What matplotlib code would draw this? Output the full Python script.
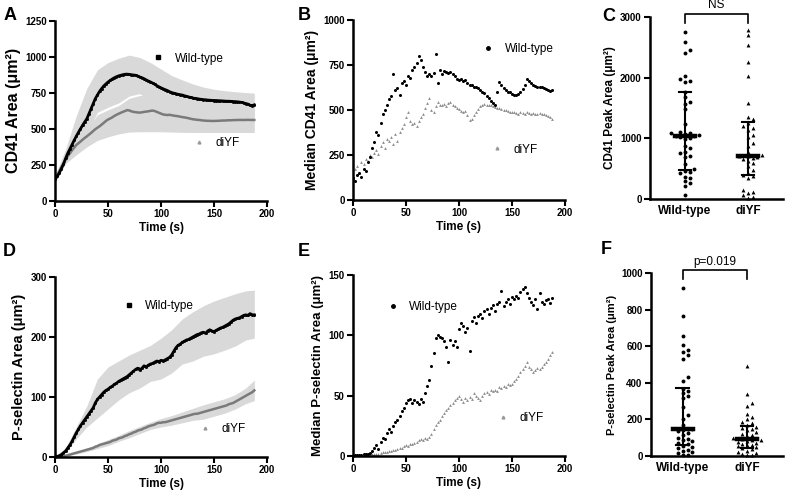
import numpy as np
import matplotlib
matplotlib.use("Agg")
import matplotlib.pyplot as plt
from matplotlib.lines import Line2D

plt.rcParams['font.family'] = ['Liberation Sans', 'DejaVu Sans']
plt.rcParams['font.weight'] = 'bold'
plt.rcParams['axes.labelweight'] = 'bold'

# traces are read every 2 s, error bands every 10 s
time_s = np.arange(0, 189, 2)
band_time_s = [0, 10, 20, 30, 40, 50, 60, 70, 80, 90, 100, 110, 120, 130, 140, 150, 160, 170, 180, 188]

# A: CD41 area, mean trace
cd41_wt = [150, 170, 195, 225, 255, 295, 330, 360, 390, 420, 448, 475, 500, 525, 548, 570, 605, 640, 675, 710,
           735, 760, 780, 798, 812, 825, 836, 846, 855, 862, 868, 872, 876, 879, 880, 878, 876, 874, 872, 866,
           860, 855, 848, 840, 832, 826, 818, 810, 800, 792, 785, 778, 772, 766, 758, 752, 748, 744, 740, 737,
           735, 730, 726, 722, 718, 714, 712, 710, 707, 705, 703, 702, 700, 699, 698, 697, 697, 696, 695, 694,
           693, 692, 692, 691, 690, 689, 688, 686, 684, 680, 676, 672, 664, 662, 667]
cd41_diyf = [150, 175, 205, 235, 262, 290, 310, 330, 350, 370, 388, 400, 412, 425, 437, 448, 460, 472, 485, 498,
             508, 518, 530, 542, 555, 565, 572, 580, 590, 598, 605, 612, 618, 624, 630, 628, 622, 618, 616, 614,
             613, 615, 618, 620, 622, 625, 627, 624, 618, 612, 606, 600, 598, 596, 598, 595, 592, 590, 588, 585,
             582, 580, 577, 574, 570, 567, 565, 563, 562, 560, 558, 557, 556, 556, 555, 555, 556, 556, 557, 558,
             558, 559, 560, 560, 561, 561, 562, 562, 562, 562, 562, 563, 562, 562, 562]
cd41_wt_hi = [175, 360, 590, 780, 910, 960, 990, 1012, 995, 960, 915, 870, 840, 812, 790, 775, 765, 758, 752, 748]
cd41_wt_lo = [130, 260, 340, 470, 615, 650, 680, 728, 745, 692, 655, 634, 630, 616, 616, 619, 621, 620, 600, 586]
cd41_diyf_hi = [175, 330, 440, 500, 598, 632, 662, 712, 732, 730, 720, 700, 690, 680, 670, 665, 660, 660, 660, 655]
cd41_diyf_lo = [130, 260, 320, 375, 420, 445, 465, 478, 480, 480, 480, 478, 476, 475, 475, 475, 475, 475, 475, 475]

# B: median CD41 area
med_cd41_wt = [120, 105, 140, 150, 125, 170, 160, 210, 240, 290, 320, 380, 360, 430, 480, 500, 530, 560, 575, 700,
               610, 620, 585, 650, 660, 640, 690, 680, 720, 740, 760, 800, 780, 740, 710, 690, 700, 690, 705, 810,
               650, 720, 700, 715, 710, 705, 712, 700, 690, 670, 665, 670, 660, 665, 650, 640, 638, 630, 625, 620,
               610, 600, 592, 580, 565, 550, 540, 530, 600, 656, 640, 620, 610, 600, 598, 590, 585, 583, 588, 600,
               615, 640, 670, 660, 650, 640, 635, 630, 628, 625, 620, 615, 612, 608, 610]
med_cd41_diyf = [130, 170, 190, 150, 210, 200, 230, 215, 250, 240, 260, 280, 255, 300, 320, 290, 340, 330, 350, 310,
                 365, 330, 380, 400, 420, 460, 490, 440, 420, 430, 410, 440, 460, 480, 510, 540, 565, 500, 490, 520,
                 545, 530, 525, 535, 520, 540, 545, 530, 520, 510, 505, 495, 490, 492, 470, 445, 450, 470, 490, 505,
                 520, 530, 535, 530, 528, 525, 520, 518, 512, 510, 505, 500, 498, 495, 490, 488, 490, 486, 480, 490,
                 485, 480, 488, 485, 480, 482, 480, 478, 485, 480, 475, 470, 465, 460, 450]

# C: CD41 peak area per platelet
peak_cd41_wt = [2750, 2580, 2460, 2410, 2020, 1980, 1950, 1930, 1770, 1680, 1590, 1570, 1480, 1240, 1100, 1090,
                1080, 1070, 1050, 1040, 1030, 1020, 1000, 990, 880, 840, 780, 760, 710, 690, 580, 490, 460, 440,
                420, 370, 350, 290, 270, 210, 70]
peak_cd41_diyf = [2780, 2700, 2530, 2250, 2020, 1580, 1350, 1310, 1250, 1200, 1170, 1140, 1060, 1020, 920, 870,
                  780, 730, 700, 700, 690, 680, 660, 620, 590, 540, 470, 430, 400, 380, 350, 150, 120, 100, 70,
                  40, 20]
peak_cd41_median = [1030, 700]
peak_cd41_low = [480, 400]
peak_cd41_high = [1770, 1260]

# D: P-selectin area, mean trace
psel_wt = [0, 1, 2, 4, 7, 10, 15, 20, 26, 33, 40, 46, 52, 57, 62, 67, 72, 77, 82, 90,
           96, 100, 104, 108, 111, 113, 116, 118, 121, 123, 126, 128, 130, 132, 134, 137, 140, 143, 146, 148,
           145, 148, 152, 150, 153, 155, 156, 158, 160, 159, 161, 160, 162, 164, 166, 170, 176, 182, 186, 188,
           191, 193, 195, 196, 198, 200, 202, 204, 205, 207, 208, 206, 210, 212, 210, 209, 211, 213, 215, 216,
           218, 220, 222, 225, 228, 230, 231, 232, 234, 236, 237, 236, 239, 237, 237]
psel_diyf = [0, 0, 0.5, 1, 1.5, 2, 3, 4, 5, 6, 7, 8, 9, 10, 11, 12, 13, 14, 15, 17,
             18, 20, 21, 22, 23, 24, 25, 27, 28, 29, 31, 32, 33, 35, 36, 38, 39, 41, 42, 44,
             45, 46, 48, 49, 51, 52, 53, 54, 56, 57, 57, 58, 58, 59, 60, 61, 62, 63, 64, 65,
             66, 67, 68, 69, 70, 71, 72, 72, 73, 74, 75, 76, 77, 78, 79, 80, 81, 82, 83, 84,
             85, 86, 88, 89, 90, 92, 94, 96, 98, 100, 102, 104, 106, 108, 111]
psel_wt_hi = [2, 15, 50, 85, 130, 150, 160, 170, 178, 186, 198, 212, 230, 242, 252, 260, 266, 272, 277, 278]
psel_wt_lo = [0, 7, 30, 50, 65, 80, 95, 107, 115, 126, 130, 140, 155, 160, 168, 172, 178, 185, 195, 198]
psel_diyf_hi = [0, 3, 9, 15, 22, 29, 36, 44, 51, 58, 64, 69, 75, 81, 87, 92, 97, 104, 115, 128]
psel_diyf_lo = [0, 1, 5, 9, 14, 19, 26, 32, 39, 46, 50, 53, 57, 61, 63, 68, 73, 80, 89, 94]

# E: median P-selectin area
med_psel_wt = [0, 0.5, 0.5, 1, 1, 1.5, 2, 2, 2.5, 4, 7, 9, 6, 12, 15, 14, 19, 22, 20, 25,
               28, 30, 33, 37, 40, 44, 46, 47, 44, 46, 45, 43, 47, 45, 52, 58, 63, 75, 85, 98,
               100, 99, 98, 95, 90, 78, 96, 92, 95, 90, 105, 110, 108, 103, 106, 87, 112, 115, 110, 116,
               118, 114, 120, 122, 118, 123, 125, 120, 126, 128, 137, 124, 128, 130, 126, 132, 130, 133, 131, 136,
               138, 140, 135, 131, 128, 125, 130, 122, 135, 128, 126, 129, 130, 127, 131]
med_psel_diyf = [0, 0, 0, 0.5, 0.5, 0.5, 1, 1, 1, 1.5, 1.5, 2, 2, 2.5, 3, 3, 3.5, 4, 4.5, 5,
                 5, 6, 7, 7, 8, 9, 8, 10, 10, 11, 12, 13, 14, 13, 15, 14, 16, 18, 22, 26,
                 28, 30, 33, 36, 38, 40, 42, 44, 46, 48, 50, 47, 45, 48, 46, 49, 47, 52, 50, 48,
                 46, 50, 52, 53, 51, 55, 54, 55, 54, 57, 56, 58, 57, 60, 59, 60, 62, 64, 66, 70,
                 72, 75, 78, 74, 72, 70, 71, 73, 72, 74, 76, 78, 80, 84, 86]

# F: P-selectin peak area per platelet
peak_psel_wt = [920, 765, 658, 604, 580, 570, 553, 530, 432, 410, 367, 355, 343, 330, 315, 270, 222, 200, 170,
                150, 145, 140, 135, 125, 115, 100, 95, 88, 80, 70, 65, 57, 50, 42, 35, 28, 20, 14, 8, 4]
peak_psel_diyf = [492, 337, 291, 275, 230, 215, 200, 188, 180, 170, 160, 152, 145, 140, 130, 122, 115, 108, 100,
                  96, 93, 90, 87, 82, 78, 72, 68, 62, 58, 52, 47, 42, 36, 30, 24, 18, 12, 8, 4]
peak_psel_median = [145, 95]
peak_psel_low = [60, 45]
peak_psel_high = [370, 165]

groups = ['Wild-type', 'diYF']

WT_COLOR = 'black'
DIYF_COLOR = '#7a7a7a'
BAND_COLOR = '#d9d9d9'

fig = plt.figure(figsize=(7.87, 4.95), dpi=100)


def style_axes(ax):
    for side in ['top', 'right']:
        ax.spines[side].set_visible(False)
    for side in ['left', 'bottom']:
        ax.spines[side].set_linewidth(1.8)
    ax.tick_params(direction='out', length=4, width=1.5, labelsize=7, pad=2)
    for lab in ax.get_xticklabels() + ax.get_yticklabels():
        lab.set_fontweight('bold')


def add_legend(ax, wt_pos, diyf_pos, wt_marker, diyf_marker):
    h_wt = Line2D([], [], ls='none', marker=wt_marker, color=WT_COLOR, ms=2.5)
    h_diyf = Line2D([], [], ls='none', marker=diyf_marker, color='#999999', ms=2)
    leg1 = ax.legend([h_wt], ['Wild-type'], loc='center left', bbox_to_anchor=wt_pos, frameon=False,
                     handlelength=1.0, handletextpad=0.9, prop={'size': 8.5, 'weight': 'normal'})
    ax.add_artist(leg1)
    ax.legend([h_diyf], ['diYF'], loc='center left', bbox_to_anchor=diyf_pos, frameon=False,
              handlelength=1.0, handletextpad=0.9, prop={'size': 8.5, 'weight': 'normal'})


def trace_panel(rect, wt, diyf, bands, ymax, ystep, ylabel, ylabel_size, wt_pos, diyf_pos):
    ax = fig.add_axes(rect)
    if bands is not None:
        wt_hi, wt_lo, dy_hi, dy_lo = bands
        ax.fill_between(band_time_s, dy_lo, dy_hi, color=BAND_COLOR, lw=0)
        ax.fill_between(band_time_s, wt_lo, wt_hi, color=BAND_COLOR, lw=0)
        ax.plot(time_s, diyf, color=DIYF_COLOR, lw=1.8)
        ax.plot(time_s, wt, color=WT_COLOR, lw=2.0, marker='s', ms=1.0)
    else:
        ax.plot(time_s, diyf, ls='none', color='#8c8c8c', marker='^', ms=2.0, mew=0)
        ax.plot(time_s, wt, ls='none', color=WT_COLOR, marker='o', ms=2.2, mew=0)
    ax.set_xlim(0, 200)
    ax.set_ylim(0, ymax)
    ax.set_xticks(np.arange(0, 201, 50))
    ax.set_yticks(np.arange(0, ymax + 1, ystep))
    ax.set_xlabel('Time (s)', fontsize=8.5, labelpad=2)
    ax.set_ylabel(ylabel, fontsize=ylabel_size, labelpad=3)
    style_axes(ax)
    add_legend(ax, wt_pos, diyf_pos, 's' if bands is not None else 'o', '^')
    return ax


def swarm_offsets(values, ymax, height_px, unit_px, dot_px=4.6):
    ys = np.asarray(values, dtype=float) / ymax * height_px
    offsets = np.zeros(len(ys))
    placed = []
    for i in np.argsort(ys):
        k = 0
        while True:
            cands = [0.0] if k == 0 else [k * dot_px, -k * dot_px]
            ok = None
            for c in cands:
                if all((c - px) ** 2 + (ys[i] - py) ** 2 >= (0.95 * dot_px) ** 2 for px, py in placed):
                    ok = c
                    break
            if ok is not None:
                offsets[i] = ok
                placed.append((ok, ys[i]))
                break
            k += 1
    return offsets / unit_px


def dot_panel(rect, xlim, wt_vals, diyf_vals, med, lo, hi, ymax, ystep, ylabel, ylabel_size, sig_text,
              height_px, unit_px):
    ax = fig.add_axes(rect)
    for i, (vals, mk) in enumerate([(wt_vals, 'o'), (diyf_vals, '^')]):
        off = swarm_offsets(vals, ymax, height_px, unit_px)
        ax.plot(i + off, vals, ls='none', marker=mk, ms=2.8, color='black', mew=0, clip_on=False)
        ax.plot([i, i], [lo[i], hi[i]], color='black', lw=1.5)
        ax.plot([i - 0.1, i + 0.1], [lo[i], lo[i]], color='black', lw=1.5)
        ax.plot([i - 0.1, i + 0.1], [hi[i], hi[i]], color='black', lw=1.5)
        ax.plot([i - 0.16, i + 0.16], [med[i], med[i]], color='black', lw=3.2)
    top = ymax * 1.015
    leg = ymax * 0.965
    ax.plot([0, 0, 1, 1], [leg, top, top, leg], color='black', lw=1.2, clip_on=False)
    ax.text(0.5, ymax * 1.03, sig_text, ha='center', va='bottom', fontsize=8.5, fontweight='normal')
    ax.set_xlim(*xlim)
    ax.set_ylim(0, ymax)
    ax.set_xticks([0, 1])
    ax.set_xticklabels(groups)
    ax.set_yticks(np.arange(0, ymax + 1, ystep))
    ax.set_ylabel(ylabel, fontsize=ylabel_size, labelpad=3)
    style_axes(ax)
    ax.tick_params(axis='x', length=0, pad=4, labelsize=8.5)
    return ax


trace_panel([0.0699, 0.594, 0.2694, 0.364], cd41_wt, cd41_diyf,
            (cd41_wt_hi, cd41_wt_lo, cd41_diyf_hi, cd41_diyf_lo),
            1250, 250, 'CD41 Area (μm²)', 11.5, (0.41, 0.79), (0.60, 0.32))
trace_panel([0.4485, 0.596, 0.2694, 0.3636], med_cd41_wt, med_cd41_diyf, None,
            1000, 250, 'Median CD41 Area (μm²)', 10, (0.56, 0.84), (0.60, 0.28))
dot_panel([0.826, 0.598, 0.169, 0.368], (-0.556, 1.556), peak_cd41_wt, peak_cd41_diyf,
          peak_cd41_median, peak_cd41_low, peak_cd41_high, 3000, 1000, 'CD41 Peak Area (μm²)', 8.5, 'NS', 182, 63)

trace_panel([0.0699, 0.0768, 0.2694, 0.3636], psel_wt, psel_diyf,
            (psel_wt_hi, psel_wt_lo, psel_diyf_hi, psel_diyf_lo),
            300, 100, 'P-selectin Area (μm²)', 10.5, (0.27, 0.84), (0.63, 0.155))
trace_panel([0.4485, 0.0788, 0.2694, 0.3656], med_psel_wt, med_psel_diyf, None,
            150, 50, 'Median P-selectin Area (μm²)', 9.5, (0.11, 0.825), (0.63, 0.21))
dot_panel([0.827, 0.0788, 0.168, 0.3697], (-0.5, 1.5625), peak_psel_wt, peak_psel_diyf,
          peak_psel_median, peak_psel_low, peak_psel_high, 1000, 200, 'P-selectin Peak Area (μm²)', 8,
          'p=0.019', 183, 64)

for letter, x, y in [('A', 0.004, 0.968), ('B', 0.378, 0.968), ('C', 0.765, 0.966),
                     ('D', 0.004, 0.492), ('E', 0.378, 0.492), ('F', 0.763, 0.496)]:
    fig.text(x, y, letter, fontsize=13, fontweight='bold', va='center', ha='left')

fig.savefig('out.png', dpi=100)
